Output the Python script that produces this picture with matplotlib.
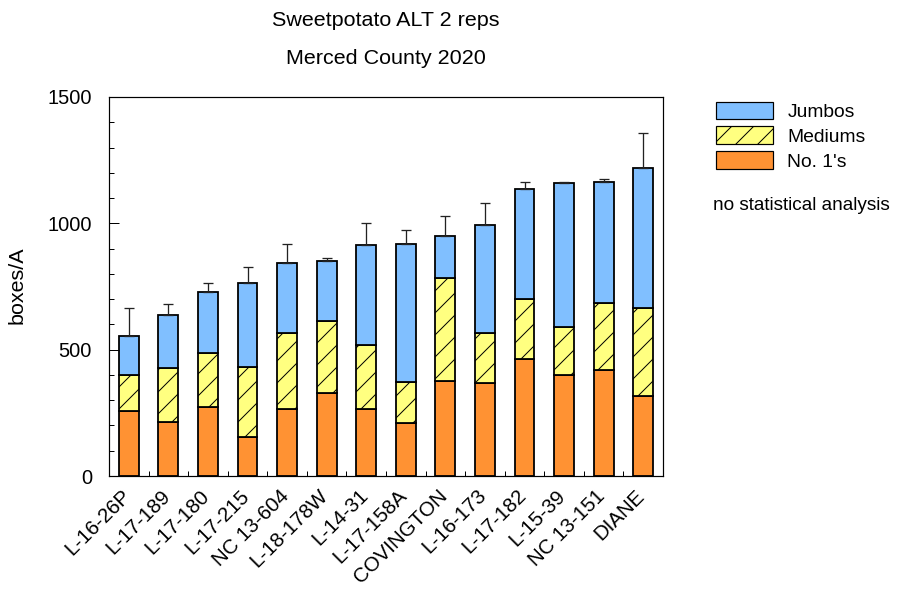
import numpy as np
import matplotlib
matplotlib.use("Agg")
import matplotlib.pyplot as plt
from matplotlib.patches import Patch
from matplotlib.ticker import MultipleLocator, FixedLocator, NullFormatter
from matplotlib.transforms import ScaledTranslation

# values (boxes/A)
clones = ['L-16-26P', 'L-17-189', 'L-17-180', 'L-17-215', 'NC 13-604', 'L-18-178W',
          'L-14-31', 'L-17-158A', 'COVINGTON', 'L-16-173', 'L-17-182', 'L-15-39',
          'NC 13-151', 'DIANE']
no1s = [257, 214, 272, 154, 266, 327, 265, 208, 376, 367, 463, 401, 418, 318]
mediums = [143, 212, 216, 277, 301, 285, 253, 163, 406, 199, 239, 189, 267, 348]
jumbos = [154, 212, 241, 331, 276, 239, 395, 547, 166, 426, 435, 570, 477, 552]
total_se = [112, 44, 36, 66, 75, 13, 87, 55, 81, 90, 28, 2, 12, 141]

DPI = 132
W, H = 901, 592

def px(v):
    # pixel size -> points at this dpi
    return v * 72 / DPI

plt.rcParams['font.family'] = ['Liberation Sans', 'DejaVu Sans']
plt.rcParams['hatch.linewidth'] = px(1.0)
plt.rcParams['xtick.direction'] = 'in'
plt.rcParams['ytick.direction'] = 'in'

c_no1 = '#FF9233'
c_med = '#FFFF80'
c_jum = '#80BFFF'

fig = plt.figure(figsize=(W / DPI, H / DPI), dpi=DPI)
ax = fig.add_axes([109 / W, 1 - 476 / H, (663 - 109) / W, (476 - 97) / H])

x = np.arange(len(clones))
no1s = np.array(no1s)
mediums = np.array(mediums)
jumbos = np.array(jumbos)
bw = 0.5
lw = px(1.8)

ax.bar(x, no1s, bw, color=c_no1, edgecolor='black', linewidth=lw)
ax.bar(x, mediums, bw, bottom=no1s, color=c_med, edgecolor='black', linewidth=lw, hatch='//')
tops = no1s + mediums + jumbos
ax.bar(x, jumbos, bw, bottom=no1s + mediums, color=c_jum, edgecolor='black', linewidth=lw)
ax.errorbar(x, tops, yerr=[np.zeros(len(x)), total_se], fmt='none', ecolor='#222222',
            elinewidth=px(1.3), capsize=px(5), capthick=px(1.3))

ax.set_xlim(-0.5, len(clones) - 0.5)
ax.set_ylim(0, 1500)
ax.set_yticks([0, 500, 1000, 1500])
ax.yaxis.set_minor_locator(MultipleLocator(100))
ax.xaxis.set_major_locator(FixedLocator(x))
ax.xaxis.set_major_formatter(NullFormatter())
ax.xaxis.set_minor_locator(FixedLocator(x[:-1] + 0.5))

# rotated clone names, anchored under each bar
lab_tr = ax.get_xaxis_transform() + ScaledTranslation(-8 / DPI, -10 / DPI, fig.dpi_scale_trans)
for xi, name in zip(x, clones):
    ax.text(xi, 0, name, transform=lab_tr, rotation=45, ha='right', va='top',
            rotation_mode='anchor', fontsize=px(20.5))

ax.tick_params(axis='y', which='major', length=px(10), width=px(1),
               pad=px(17), labelsize=px(20), right=False)
ax.tick_params(axis='y', which='minor', length=px(5), width=px(1), right=False)
ax.tick_params(axis='x', which='major', length=0)
ax.tick_params(axis='x', which='minor', length=px(5), width=px(1), top=False)
for s in ax.spines.values():
    s.set_linewidth(px(1.2))

fig.text(17.5 / W, 1 - 285 / H, 'boxes/A', rotation=90, ha='center', va='center', fontsize=px(21.5))
fig.text(386 / W, 1 - 20 / H, 'Sweetpotato ALT 2 reps', ha='center', va='center', fontsize=px(21.5))
fig.text(386 / W, 1 - 58 / H, 'Merced County 2020', ha='center', va='center', fontsize=px(21.5))

handles = [Patch(facecolor=c_jum, edgecolor='black', linewidth=px(1.2), label='Jumbos'),
           Patch(facecolor=c_med, edgecolor='black', linewidth=px(1.2), hatch='//', label='Mediums'),
           Patch(facecolor=c_no1, edgecolor='black', linewidth=px(1.2), label="No. 1's")]
fig.legend(handles=handles, loc='upper left', bbox_to_anchor=(716 / W, 1 - 101.5 / H),
           frameon=False, fontsize=px(19.2), borderpad=0, borderaxespad=0,
           handlelength=2.97, handleheight=1.0, handletextpad=0.75, labelspacing=0.3)
fig.text(713 / W, 1 - 205 / H, 'no statistical analysis', ha='left', va='center', fontsize=px(19))

fig.savefig('out.png', dpi=DPI)
